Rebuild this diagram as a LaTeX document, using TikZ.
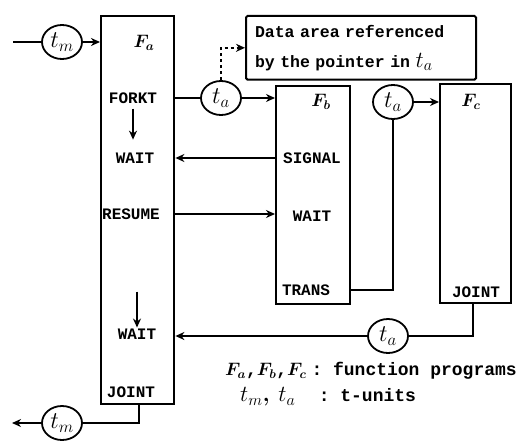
\RequirePackage{fix-cm}
\documentclass[tikz,border=0pt]{standalone}
\usepackage{amsmath}
\usepackage{fontspec}
\setmonofont{Liberation Mono}
\usetikzlibrary{arrows.meta,positioning,calc,shapes.geometric}
\tikzset{
  prog/.style={draw, line width=2.4pt, anchor=north west, inner sep=0pt},
  data/.style={draw, line width=2pt, rounded corners=1.5pt, anchor=north west, inner sep=9pt,
    text width=212pt, minimum height=63pt, align=left,
    font=\ttfamily\bfseries\fontsize{16.5}{30}\selectfont},
  unit/.style={draw, ellipse, line width=1.8pt, minimum width=40pt, minimum height=34pt,
    inner sep=0pt, fill=white, font=\fontsize{24}{24}\selectfont},
  kw/.style={font=\ttfamily\bfseries\fontsize{16}{18}\selectfont, inner sep=1pt},
  fname/.style={font=\bfseries\fontsize{18}{20}\selectfont},
  arr/.style={-{Stealth[length=9pt,width=8pt]}, line width=2pt},
  ln/.style={line width=2pt},
  note/.style={anchor=west, inner sep=0pt, font=\ttfamily\bfseries\fontsize{18}{20}\selectfont}}

\begin{document}
\begin{tikzpicture}[x=1pt, y=-1pt]
  \useasboundingbox (0,0) rectangle (526,441);
  % function programs
  \node[prog, minimum width=73pt, minimum height=388pt] (fa) at (100,15) {};
  \node[prog, minimum width=74pt, minimum height=218pt] (fb) at (275,85) {};
  \node[prog, minimum width=71pt, minimum height=219pt] (fc) at (439,83) {};
  \node[data] (area) at (245,15) {Data area referenced\\by the pointer in \rmfamily\fontsize{23}{23}\selectfont$t_{a}$};
  % labels in F_a
  \node[fname] (fa-name) at (144,43) {$\boldsymbol{F_a}$};
  \node[kw] (fork) at (133,98) {FORKT};
  \node[kw] (wait1) at (135,158) {WAIT};
  \node[kw] (res) at (131,214) {RESUME};
  \node[kw] (wait2) at (137,334) {WAIT};
  \node[kw] (joina) at (131,392) {JOINT};
  % labels in F_b, F_c
  \node[fname] (fb-name) at (321,102) {$\boldsymbol{F_b}$};
  \node[kw] (sig) at (312,158) {SIGNAL};
  \node[kw] (wait3) at (312,216) {WAIT};
  \node[kw] (trans) at (306,290) {TRANS};
  \node[fname] (fc-name) at (471,102) {$\boldsymbol{F_c}$};
  \node[kw] (joinc) at (476,292) {JOINT};
  % t-units
  \node[unit] (tm1) at (62,42) {$t_{m}$};
  \node[unit] (ta1) at (221,98) {$t_{a}$};
  \node[unit] (ta2) at (393,102) {$t_{a}$};
  \node[unit] (ta3) at (388,336) {$t_{a}$};
  \node[unit] (tm2) at (62,423) {$t_{m}$};
  \coordinate (in) at (13,42);
  \coordinate (out) at (12,423);
  % connectors
  \draw[ln] (in) -- (tm1);
  \draw[arr] (tm1) -- (tm1 -| fa.west);
  \draw[ln] (fork -| fa.east) -- (ta1);
  \draw[arr] (ta1) -- (ta1 -| fb.west);
  \draw[arr, dashed, line width=1.6pt] (ta1.north) |- (area.west);
  \draw[arr] (fork.south) ++(0,4) -- ++(0,31);
  \draw[arr] (sig -| fb.west) -- (sig -| fa.east);
  \draw[arr] (res -| fa.east) -- (res -| fb.west);
  \draw[arr] ($(wait2.north)+(0,-36)$) -- (wait2.north);
  \draw[ln] (trans -| fb.east) -| (ta2.south);
  \draw[arr] (ta2) -- (ta2 -| fc.west);
  \draw[ln] (fc.south -| 473,0) |- (ta3);
  \draw[arr] (ta3) -- (ta3 -| fa.east);
  \draw[ln] (fa.south -| 139,0) |- (tm2);
  \draw[arr] (tm2) -- (out);
  % legend
  \node[note] (key1) at (225,371) {$\boldsymbol{F_a}$,$\boldsymbol{F_b}$,$\boldsymbol{F_c}$\hspace{5pt}: function programs};
  \node[note] (key2) at (240,397) {{\rmfamily\fontsize{23}{23}\selectfont$t_{m}$, $t_{a}$}\hspace{1.3em}: t-units};
\end{tikzpicture}
\end{document}
